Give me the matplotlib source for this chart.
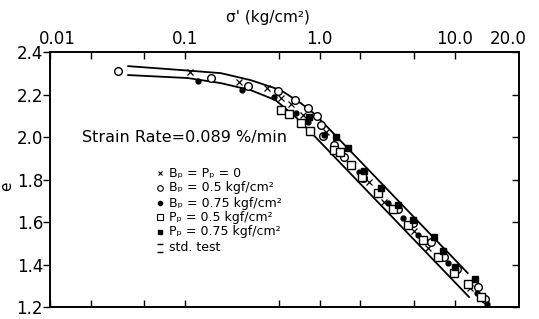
import numpy as np
import matplotlib
matplotlib.use("Agg")
import matplotlib.pyplot as plt
import matplotlib.transforms as mtransforms

# effective stress (kg/cm2) and void ratio e
x_zero = [0.109, 0.251, 0.405, 0.514, 0.61, 0.748, 1.11, 1.43, 2.31, 2.98, 4.97, 6.4, 12.9]
e_zero = [2.306, 2.259, 2.231, 2.184, 2.155, 2.104, 2.024, 1.929, 1.788, 1.694, 1.558, 1.478, 1.289]

x_bp05 = [0.032, 0.156, 0.293, 0.489, 0.653, 0.815, 0.95, 1.02, 1.05, 1.27, 1.51, 2.08,
          3.78, 4.89, 6.64, 8.29, 10.5, 14.8, 16.7]
e_bp05 = [2.311, 2.278, 2.240, 2.216, 2.174, 2.136, 2.099, 2.056, 2.005, 1.962, 1.906, 1.807,
          1.661, 1.595, 1.506, 1.435, 1.379, 1.294, 1.238]

x_bp075 = [0.125, 0.264, 0.456, 0.664, 0.815, 1.07, 1.94, 3.19, 4.12, 5.32, 8.87, 14.6, 17.3]
e_bp075 = [2.264, 2.221, 2.188, 2.113, 2.071, 2.009, 1.835, 1.689, 1.619, 1.539, 1.407, 1.266, 1.214]

x_pp05 = [0.514, 0.589, 0.723, 0.843, 1.27, 1.41, 1.70, 2.05, 2.69, 3.47, 4.49, 5.79,
          7.48, 9.84, 12.5, 15.6]
e_pp05 = [2.127, 2.108, 2.066, 2.028, 1.939, 1.929, 1.868, 1.812, 1.736, 1.661, 1.586, 1.515,
          1.435, 1.360, 1.308, 1.247]

x_pp075 = [0.829, 1.31, 1.61, 2.12, 2.83, 3.78, 4.89, 6.99, 8.15, 10.0, 14.1]
e_pp075 = [2.094, 2.0, 1.948, 1.84, 1.76, 1.68, 1.609, 1.529, 1.464, 1.388, 1.332]

# bounds of the standard test
x_upper = [0.038, 0.0966, 0.185, 0.308, 0.514, 0.723, 0.935, 12.5]
e_upper = [2.334, 2.315, 2.301, 2.268, 2.221, 2.160, 2.104, 1.36]
x_lower = [0.038, 0.105, 0.185, 0.308, 0.47, 0.664, 0.855, 12.8]
e_lower = [2.292, 2.278, 2.254, 2.221, 2.174, 2.094, 2.024, 1.247]

top_ticks = [0.01, 0.1, 1, 10, 20]
top_labels = ["0.01", "0.1", "1.0", "10.0", "20.0"]
minor_ticks = [0.02, 0.05, 0.5, 2, 5]
y_ticks = [1.2, 1.4, 1.6, 1.8, 2.0, 2.2, 2.4]

plt.rcParams["font.family"] = ["DejaVu Sans"]

fig = plt.figure(figsize=(5.39, 3.19), dpi=100)
ax = fig.add_axes([0.0928, 0.0376, 0.870, 0.799])

ax.plot(x_upper, e_upper, color="black", lw=1.3)
ax.plot(x_lower, e_lower, color="black", lw=1.3)

ax.plot(x_zero, e_zero, "x", color="black", ms=4, mew=0.9)
ax.plot(x_bp05, e_bp05, "o", mfc="white", mec="black", ms=5.5, mew=1.0)
ax.plot(x_bp075, e_bp075, "o", color="black", ms=3.5)
ax.plot(x_pp05, e_pp05, "s", mfc="white", mec="black", ms=5.5, mew=1.0)
ax.plot(x_pp075, e_pp075, "s", color="black", ms=4)

ax.set_xscale("log")
ax.set_xlim(0.01, 30)
ax.set_ylim(1.2, 2.4)

ax.xaxis.set_ticks_position("both")
ax.set_xticks(top_ticks)
ax.set_xticklabels(top_labels, fontsize=12)
ax.set_xticks(minor_ticks, minor=True)
ax.tick_params(axis="x", which="both", direction="in", length=5, width=1.0,
               labelbottom=False, labeltop=True, pad=3)
majors = ax.xaxis.get_major_ticks()
last = majors[-1]
last.tick1line.set_visible(False)
last.tick2line.set_visible(False)
# end labels sit a bit off their ticks in the original
shift_r = mtransforms.ScaledTranslation(13 / 100, 0, fig.dpi_scale_trans)
last.label2.set_transform(last.label2.get_transform() + shift_r)
shift_l = mtransforms.ScaledTranslation(7 / 100, 0, fig.dpi_scale_trans)
majors[0].label2.set_transform(majors[0].label2.get_transform() + shift_l)

ax.set_yticks(y_ticks)
ax.set_yticklabels([f"{v:.1f}" for v in y_ticks], fontsize=12)
ax.tick_params(axis="y", which="both", left=True, right=True, direction="out",
               length=5, width=1.0, pad=0)
for t in ax.yaxis.get_major_ticks():
    t.tick2line.set_marker(matplotlib.lines.TICKLEFT)

for s in ax.spines.values():
    s.set_linewidth(1.4)

fig.text(0.013, 0.415, "e", fontsize=11, rotation=90, ha="center", va="center")
fig.text(0.497, 0.945, "σ' (kg/cm²)", fontsize=11, ha="center", va="center")

ax.text(0.068, 0.665, "Strain Rate=0.089 %/min", transform=ax.transAxes,
        fontsize=11.5, va="center")

# legend drawn by hand to follow the original layout
leg_x = 0.235
leg_rows = [0.525, 0.467, 0.408, 0.352, 0.296]
leg_texts = ["Bₚ = Pₚ = 0",
             "Bₚ = 0.5 kgf/cm²",
             "Bₚ = 0.75 kgf/cm²",
             "Pₚ = 0.5 kgf/cm²",
             "Pₚ = 0.75 kgf/cm²"]
leg_style = [dict(marker="x", color="black", ms=3.5, mew=0.8),
             dict(marker="o", mfc="white", mec="black", ms=4, mew=0.8),
             dict(marker="o", color="black", ms=3),
             dict(marker="s", mfc="white", mec="black", ms=4, mew=0.8),
             dict(marker="s", color="black", ms=3.5)]
for yy, txt, st in zip(leg_rows, leg_texts, leg_style):
    ax.plot([leg_x], [yy], transform=ax.transAxes, ls="none", **st)
    ax.text(leg_x + 0.018, yy, txt, transform=ax.transAxes, fontsize=9, va="center")

ax.errorbar([leg_x], [0.232], yerr=[0.016], transform=ax.transAxes, fmt="none",
            ecolor="black", elinewidth=0, capsize=2.5, capthick=1.0)
ax.text(leg_x + 0.018, 0.232, "std. test", transform=ax.transAxes, fontsize=9, va="center")

fig.savefig("out.png", dpi=100)
